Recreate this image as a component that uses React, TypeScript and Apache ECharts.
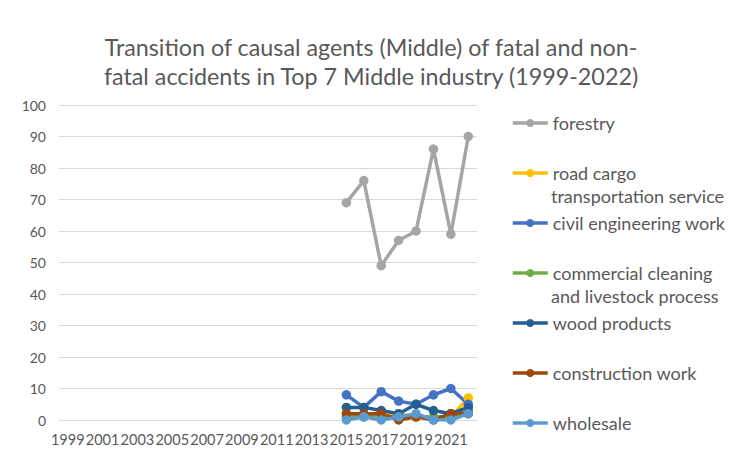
import React, { useEffect, useRef } from "react";
import * as echarts from "echarts";

const years = ["1999","2000","2001","2002","2003","2004","2005","2006","2007","2008","2009","2010","2011","2012","2013","2014","2015","2016","2017","2018","2019","2020","2021","2022"];
const pad = Array(16).fill(null);
const forestry = [...pad, 69, 76, 49, 57, 60, 86, 59, 90];
const roadCargo = [...pad, 1, 1, 1, 2, 1, 1, 1, 7];
const civilEngineering = [...pad, 8, 4, 9, 6, 5, 8, 10, 5];
const commercialCleaning = [...pad, 1, 1, 1, 1, 1, 1, 1, 3];
const woodProducts = [...pad, 4, 4, 3, 2, 5, 3, 2, 4];
const constructionWork = [...pad, 2, 2, 2, 0, 1, 0, 2, 2];
const wholesale = [...pad, 0, 1, 0, 1, 2, 0, 0, 2];

const seriesDefs = [
  { name: "forestry", data: forestry, color: "#A5A5A5" },
  { name: "road cargo transportation service", data: roadCargo, color: "#FFC000" },
  { name: "civil engineering work", data: civilEngineering, color: "#4472C4" },
  { name: "commercial cleaning and livestock process", data: commercialCleaning, color: "#70AD47" },
  { name: "wood products", data: woodProducts, color: "#255E91" },
  { name: "construction work", data: constructionWork, color: "#9E480E" },
  { name: "wholesale", data: wholesale, color: "#5B9BD5" },
];

const firstLine: Record<string, string> = {
  "road cargo transportation service": "road cargo",
  "commercial cleaning and livestock process": "commercial cleaning",
};

const FONT = "Lato";
const GREY = "#595959";

export default function App() {
  const ref = useRef<HTMLDivElement>(null);
  useEffect(() => {
    if (!ref.current) return;
    const chart = echarts.init(ref.current, undefined, { renderer: "svg" });
    chart.setOption({
      animation: false,
      backgroundColor: "#ffffff",
      title: {
        text: "Transition of causal agents (Middle) of fatal and non-\nfatal accidents in Top 7 Middle industry (1999-2022)",
        left: 371,
        textAlign: "center",
        top: 32,
        padding: 0,
        textStyle: { fontFamily: FONT, fontSize: 23.3, fontWeight: "normal", color: GREY, lineHeight: 29 },
      },
      legend: {
        orient: "vertical",
        left: 511,
        top: 112,
        padding: 0,
        itemWidth: 35,
        itemHeight: 10,
        itemGap: 28,
        lineStyle: { width: 3.5 },
        formatter: (n: string) => firstLine[n] || n,
        textStyle: { fontFamily: FONT, fontSize: 18, color: GREY, lineHeight: 22 },
        data: seriesDefs.map((s) => s.name),
      },
      graphic: [
        { type: "text", left: 551, top: 187, style: { text: "transportation service", font: `18px ${FONT}`, fill: GREY } },
        { type: "text", left: 551, top: 287, style: { text: "and livestock process", font: `18px ${FONT}`, fill: GREY } },
      ],
      grid: { left: 59, right: 266, top: 105, bottom: 39, containLabel: false },
      xAxis: {
        type: "category",
        data: years,
        boundaryGap: true,
        axisLine: { lineStyle: { color: "#D9D9D9" } },
        axisTick: { show: false },
        axisLabel: { interval: 1, color: GREY, fontFamily: FONT, fontSize: 14.5, margin: 12 },
      },
      yAxis: {
        type: "value",
        min: 0,
        max: 100,
        interval: 10,
        axisLine: { show: false },
        axisTick: { show: false },
        axisLabel: { color: GREY, fontFamily: FONT, fontSize: 14, margin: 13 },
        splitLine: { lineStyle: { color: "#D9D9D9", width: 1 } },
      },
      series: seriesDefs.map((s) => ({
        name: s.name,
        type: "line",
        data: s.data,
        color: s.color,
        symbol: "circle",
        symbolSize: 9.5,
        showSymbol: true,
        connectNulls: false,
        lineStyle: { width: 3.5, color: s.color },
        itemStyle: { color: s.color },
      })),
    });
    return () => chart.dispose();
  }, []);
  return <div ref={ref} style={{ position: "fixed", left: 0, top: 0, width: 743, height: 459 }} />;
}
